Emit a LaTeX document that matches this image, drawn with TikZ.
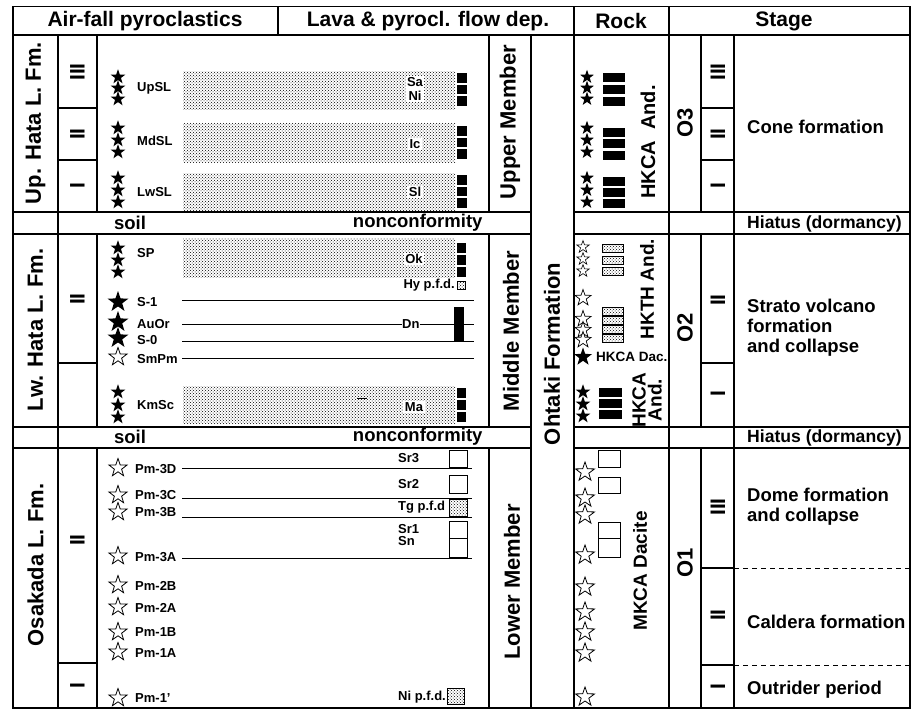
\documentclass[tikz,border=0pt]{standalone}
\usepackage{fontspec}
\setmainfont{Liberation Sans}
\usepackage{tikz}
\usetikzlibrary{shapes.geometric, patterns}

\begin{document}
\begin{tikzpicture}[
    x=1pt, y=-1pt,
    rule/.style={line width=1.2pt},
    tephra/.style={line width=1pt},
    head/.style={font=\fontsize{21}{21}\selectfont\bfseries},
    fmlabel/.style={rotate=90, font=\fontsize{22}{22}\selectfont\bfseries},
    roman/.style={rotate=90, font=\fontsize{21}{21}\selectfont\bfseries},
    rocklabel/.style={rotate=90, align=center, font=\fontsize{19}{16}\selectfont\bfseries},
    stagetext/.style={anchor=west, align=left, inner sep=1pt, font=\fontsize{18.5}{20}\selectfont\bfseries},
    soiltext/.style={font=\fontsize{18.5}{18.5}\selectfont\bfseries},
    unit/.style={anchor=west, inner sep=0pt, font=\fontsize{13}{13}\selectfont\bfseries},
    onbar/.style={fill=white, inner sep=1.5pt, align=center, font=\fontsize{13}{14}\selectfont\bfseries},
    fstar/.style={star, star points=5, star point ratio=2.5, fill=black, inner sep=0pt, minimum size=15.5pt},
    ostar/.style={star, star points=5, star point ratio=2.5, draw=black, line width=0.8pt, fill=white, inner sep=0pt, minimum size=19pt},
    stipple/.style={pattern=crosshatch dots, pattern color=black},
    sqr/.style={fill=black}
]
    \useasboundingbox (0,0) rectangle (912,710);

    % Frame and header
    \draw[rule] (13,6.5) rectangle (910,708);
    \draw[rule] (13,35) -- (910,35);
    \draw[rule] (278,6.5) -- (278,35);
    \draw[rule] (574,6.5) -- (574,708);
    \draw[rule] (669,6.5) -- (669,708);

    \node[head] (hAir) at (145,21) {Air-fall pyroclastics};
    \node[head] (hLava) at (428,21) {Lava \& pyrocl. flow dep.};
    \node[head] (hRock) at (621,21) {Rock};
    \node[head] (hStage) at (784,21) {Stage};

    % Columns
    \draw[rule] (58,35) -- (58,708);
    \draw[rule] (97,35) -- (97,212) (97,234) -- (97,427) (97,448) -- (97,708);
    \draw[rule] (489,35) -- (489,212) (489,234) -- (489,427) (489,448) -- (489,708);
    \draw[rule] (531,35) -- (531,708);
    \draw[rule] (701,35) -- (701,212) (701,234) -- (701,427) (701,448) -- (701,708);
    \draw[rule] (734,35) -- (734,708);
    \foreach \y in {212,234,427,448}
        \draw[rule] (13,\y) -- (531,\y) (574,\y) -- (910,\y);
    \draw[rule] (58,108) -- (97,108) (58,160) -- (97,160) (58,363) -- (97,363) (58,663) -- (97,663);
    \draw[rule] (701,108) -- (734,108) (701,160) -- (734,160) (701,363) -- (734,363)
        (701,568) -- (734,568) (701,665) -- (734,665);
    \draw[tephra, dash pattern=on 5pt off 4pt] (734,568) -- (910,568) (734,665) -- (910,665);

    % Formations, members and stages
    \node[fmlabel] (upHata) at (35.5,123) {Up. Hata L. Fm.};
    \node[fmlabel] (lwHata) at (35.5,330) {Lw. Hata L. Fm.};
    \node[fmlabel] (osakada) at (35.5,565) {Osakada L. Fm.};
    \node[roman] (aIII) at (77.5,72) {III};
    \node[roman] (aII) at (77.5,134) {II};
    \node[roman] (aI) at (77.5,186) {I};
    \node[roman] (bII) at (77.5,299) {II};
    \node[roman] (cII) at (77.5,540) {II};
    \node[roman] (cI) at (77.5,686) {I};

    \node[fmlabel] (upper) at (510,122) {Upper Member};
    \node[fmlabel] (middle) at (511,331) {Middle Member};
    \node[fmlabel] (lower) at (512,582) {Lower Member};
    \node[fmlabel] (ohtaki) at (552,354) {Ohtaki Formation};

    \node[fmlabel] (o3) at (685,123) {O3};
    \node[fmlabel] (o2) at (685,328) {O2};
    \node[fmlabel] (o1) at (685,563) {O1};
    \node[roman] (sIII) at (718,72) {III};
    \node[roman] (sII) at (718,134) {II};
    \node[roman] (sI) at (718,186) {I};
    \node[roman] (tII) at (718,300) {II};
    \node[roman] (tI) at (718,394) {I};
    \node[roman] (uIII) at (718,507) {III};
    \node[roman] (uII) at (718,615) {II};
    \node[roman] (uI) at (718,687) {I};

    \node[stagetext] (cone) at (746,127) {Cone formation};
    \node[stagetext, font=\fontsize{17.6}{18}\selectfont\bfseries] (hiatus1) at (746,224) {Hiatus (dormancy)};
    \node[stagetext] (strato) at (746,328) {Strato volcano\\formation\\and collapse};
    \node[stagetext, font=\fontsize{17.6}{18}\selectfont\bfseries] (hiatus2) at (746,438) {Hiatus (dormancy)};
    \node[stagetext] (dome) at (746,507) {Dome formation\\and collapse};
    \node[stagetext] (caldera) at (746,622) {Caldera formation};
    \node[stagetext] (outrider) at (746,690) {Outrider period};

    \node[soiltext] (soil1) at (130,223) {soil};
    \node[soiltext, anchor=east] (nonconf1) at (486,223) {nonconformity};
    \node[soiltext] (soil2) at (130,437) {soil};
    \node[soiltext, anchor=east] (nonconf2) at (486,437) {nonconformity};

    % Upper Member
    \fill[stipple] (183,71) rectangle (455,109);
    \fill[stipple] (183,123) rectangle (455,162);
    \fill[stipple] (183,173) rectangle (455,210);
    \node[onbar] (sa) at (415,89) {Sa\\Ni};
    \node[onbar] (ic) at (415,144) {Ic};
    \node[onbar] (sl) at (415,192) {Sl};
    \foreach \y [count=\i] in {77,88,99,128,140,152,178,190,202} {
        \node[fstar] (afU\i) at (118,\y) {};
        \node[fstar, minimum size=14.5pt] (rkU\i) at (587,\y) {};
    }
    \foreach \y in {78,89.5,101,131,142.5,154,180,191.5,203}
        \fill[sqr] (457,\y) ++(0,-4.8) rectangle ++(10,9.6);
    \foreach \y in {77.5,89,101,132,143,155,181,192,203}
        \fill[sqr] (603,\y) ++(0,-4.5) rectangle ++(22,9);
    \node[unit] (upsl) at (137,88) {UpSL};
    \node[unit] (mdsl) at (137,141) {MdSL};
    \node[unit] (lwsl) at (137,192) {LwSL};
    \node[rocklabel, font=\fontsize{20}{20}\selectfont\bfseries] (hkcaU) at (648,142) {HKCA\ \ And.};

    % Middle Member
    \fill[stipple] (183,238) rectangle (455,277);
    \fill[stipple] (183,386) rectangle (455,423);
    \node[onbar] (ok) at (414,259) {Ok};
    \node[onbar] (ma) at (414,407) {Ma};
    \draw[tephra] (357,398) -- (367,398);
    \foreach \y in {248,260,272}
        \fill[sqr] (457,\y) ++(0,-4.8) rectangle ++(9,9.6);
    \foreach \y in {393,405,417}
        \fill[sqr] (457,\y) ++(0,-4.8) rectangle ++(9,9.6);
    \node[unit, anchor=east] (hy) at (455,285) {Hy p.f.d.};
    \draw[stipple, draw=black, line width=0.6pt] (457,281) rectangle (465,289);

    \foreach \y [count=\i] in {248,260,272,392,405,417}
        \node[fstar] (afM\i) at (118,\y) {};
    \node[fstar, minimum size=22pt] (s1) at (118,302) {};
    \node[fstar, minimum size=22pt] (auor) at (118,322) {};
    \node[fstar, minimum size=22pt] (s0) at (118,338) {};
    \node[ostar] (smpm) at (118,357) {};
    \node[unit] (sp) at (137,253) {SP};
    \node[unit] (lS1) at (137,302) {S-1};
    \node[unit] (lAuOr) at (137,324) {AuOr};
    \node[unit] (lS0) at (137,340) {S-0};
    \node[unit] (lSmPm) at (137,359) {SmPm};
    \node[unit] (kmsc) at (137,405) {KmSc};

    \node[unit] (dn) at (402,324) {Dn};
    \fill[sqr] (454,307) rectangle (464,342);
    \draw[tephra] (182,300) -- (474,300);
    \draw[tephra] (182,324) -- (dn.west) (dn.east) -- (474,324);
    \draw[tephra] (182,341) -- (474,341);
    \draw[tephra] (182,358) -- (474,358);

    % Middle rock
    \foreach \y [count=\i] in {247,259,271}
        \node[ostar, minimum size=13pt, line width=0.6pt] (rkH\i) at (583,\y) {};
    \foreach \y [count=\i] in {298,319,330,340}
        \node[ostar, minimum size=17pt, line width=0.7pt] (rkT\i) at (583,\y) {};
    \foreach \y in {244,256,267}
        \draw[stipple, draw=black, line width=0.6pt] (602,\y) rectangle ++(21,8);
    \foreach \y in {307,316,325,334}
        \draw[stipple, draw=black, line width=0.6pt] (602,\y) rectangle ++(21,8.5);
    \node[fstar, minimum size=19pt] (rkDac) at (583,357) {};
    \node[unit, font=\fontsize{13.5}{13.5}\selectfont\bfseries] (hkcaDac) at (596,357) {HKCA Dac.};
    \node[rocklabel] (hkth) at (647,289) {HKTH And.};
    \foreach \y [count=\i] in {392,404,416}
        \node[fstar] (rkM\i) at (583,\y) {};
    \foreach \y in {392.5,403.5,414}
        \fill[sqr] (599,\y) ++(0,-4.5) rectangle ++(23,9);
    \node[rocklabel] (hkcaM) at (647,400) {HKCA\\And.};

    % Lower Member
    \foreach \y [count=\i] in {468,495,512,556,585,607,632,652,698}
        \node[ostar] (afL\i) at (118,\y) {};
    \node[unit] (pm3d) at (135,469) {Pm-3D};
    \node[unit] (pm3c) at (135,495) {Pm-3C};
    \node[unit] (pm3b) at (135,512) {Pm-3B};
    \node[unit] (pm3a) at (135,557) {Pm-3A};
    \node[unit] (pm2b) at (135,586) {Pm-2B};
    \node[unit] (pm2a) at (135,608) {Pm-2A};
    \node[unit] (pm1b) at (135,632) {Pm-1B};
    \node[unit] (pm1a) at (135,653) {Pm-1A};
    \node[unit] (pm1p) at (135,698) {Pm-1'};
    \draw[tephra] (182,468) -- (472,468);
    \draw[tephra] (182,498) -- (472,498);
    \draw[tephra] (182,517) -- (472,517);
    \draw[tephra] (182,558) -- (472,558);

    \node[unit] (sr3) at (398,458) {Sr3};
    \node[unit] (sr2) at (398,484) {Sr2};
    \node[unit] (tg) at (398,507) {Tg p.f.d};
    \node[unit] (sr1) at (398,529) {Sr1};
    \node[unit] (sn) at (398,541) {Sn};
    \node[unit] (ni) at (398,697) {Ni p.f.d.};
    \draw[line width=0.8pt] (449,450) rectangle (467,467);
    \draw[line width=0.8pt] (449,475) rectangle (467,493);
    \draw[stipple, draw=black, line width=0.8pt] (449,499) rectangle (467,516);
    \draw[line width=0.8pt] (449,521) rectangle (467,538) (449,538) rectangle (467,557);
    \draw[stipple, draw=black, line width=0.8pt] (447,688) rectangle (464,704);

    % Lower rock
    \foreach \y [count=\i] in {472,498,515,555,587,612,632,653,697}
        \node[ostar, minimum size=20pt] (rkL\i) at (585,\y) {};
    \draw[line width=0.8pt] (598,450) rectangle (620,467);
    \draw[line width=0.8pt] (598,477) rectangle (620,493);
    \draw[line width=0.8pt] (598,522) rectangle (620,538) (598,538) rectangle (620,557);
    \node[rocklabel] (mkca) at (640,571) {MKCA Dacite};
\end{tikzpicture}
\end{document}
